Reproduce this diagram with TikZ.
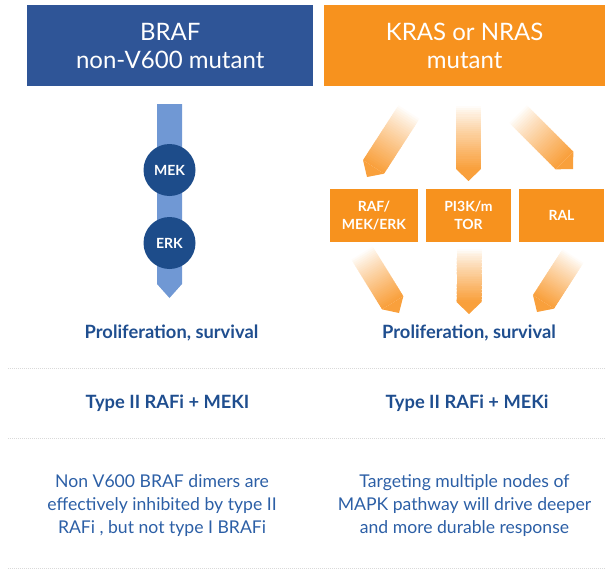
\documentclass[tikz,border=0pt]{standalone}
\usepackage{fontspec}
\setmainfont{Lato}
\usetikzlibrary{calc}
\definecolor{hblue}{HTML}{2F5597}
\definecolor{horange}{HTML}{F7921E}
\definecolor{tblue}{HTML}{1F4E8F}
\definecolor{pblue}{HTML}{2C5FA6}
\definecolor{cblue}{HTML}{1D4C8A}
\definecolor{ablue}{HTML}{7098D4}
\definecolor{aorange}{HTML}{F9A03C}
\definecolor{lgray}{HTML}{D9D9D9}
\newcommand\fatarr[2]{%
  \coordinate (fa-sh) at ($(#2)!12pt!(#1)$);
  \coordinate (fa-pa) at ($(#1)!12.5pt!90:(#2)$);
  \coordinate (fa-qa) at ($(#1)!12.5pt!-90:(#2)$);
  \coordinate (fa-ps) at ($(fa-sh)!12.5pt!90:(#2)$);
  \coordinate (fa-qs) at ($(fa-sh)!12.5pt!-90:(#2)$);
  \foreach \i in {0,...,29}{%
    \pgfmathsetmacro\ta{\i/30}%
    \pgfmathsetmacro\tb{min(1,(\i+1.4)/30)}%
    \pgfmathsetmacro\pc{100*((\i+0.5)/30)^0.85}%
    \fill[aorange!\pc!white]
      ($(fa-pa)!\ta!(fa-ps)$) -- ($(fa-pa)!\tb!(fa-ps)$) --
      ($(fa-qa)!\tb!(fa-qs)$) -- ($(fa-qa)!\ta!(fa-qs)$) -- cycle;
  }%
  \fill[aorange] (fa-ps) -- (#2) -- (fa-qs) -- cycle;
}
\begin{document}
\begin{tikzpicture}[x=1pt,y=1pt,
  hdr/.style={fill=#1, draw=none, text=white, align=center, inner sep=0pt,
    minimum height=81pt, anchor=north west, font=\fontsize{24}{28}\selectfont},
  circ/.style={circle, fill=cblue, text=white, minimum size=52pt, inner sep=0pt,
    font=\bfseries\fontsize{14}{16}\selectfont},
  obox/.style={fill=horange, text=white, align=center, inner sep=0pt,
    minimum height=53pt, font=\bfseries\fontsize{14}{18}\selectfont},
  lbl/.style={text=tblue, font=\bfseries\fontsize{18.3}{20}\selectfont},
  para/.style={text=pblue, align=center, font=\fontsize{17.6}{23}\selectfont},
  dotln/.style={lgray, line width=0.8pt, dash pattern=on 1pt off 1pt}
]
\useasboundingbox (0,0) rectangle (605,-570);
% headers
\node[hdr=hblue, minimum width=286pt] (braf) at (27,-5) {BRAF\\non-V600 mutant};
\node[hdr=horange, minimum width=281pt] (kras) at (324,-5) {KRAS or NRAS\\mutant};
% left pathway
\fill[ablue] (157,-104) -- (182,-104) -- (182,-284) -- (169.5,-298) -- (157,-284) -- cycle;
\node[circ] (mek) at (169.5,-170) {MEK};
\node[circ] (erk) at (169.5,-243) {ERK};
% right pathway
\node[obox, minimum width=88pt] (raf) at (374,-215.5) {RAF/\\MEK/ERK};
\node[obox, minimum width=85pt] (pi3k) at (468.5,-215.5) {PI3K/m\\TOR};
\node[obox, minimum width=85pt] (ral) at (561.5,-215.5) {RAL};
\coordinate (a1s) at (409,-112); \coordinate (a1e) at (367,-177);
\coordinate (a2s) at (468.5,-106); \coordinate (a2e) at (468.5,-181);
\coordinate (a3s) at (518,-114); \coordinate (a3e) at (573,-169);
\coordinate (b1s) at (362,-253); \coordinate (b1e) at (399,-313);
\coordinate (b2s) at (469,-249); \coordinate (b2e) at (469,-314);
\coordinate (b3s) at (573,-256); \coordinate (b3e) at (537,-312);
\fatarr{a1s}{a1e}
\fatarr{a2s}{a2e}
\fatarr{a3s}{a3e}
\fatarr{b1s}{b1e}
\fatarr{b2s}{b2e}
\fatarr{b3s}{b3e}
% texts
\node[lbl] (lprol) at (171.5,-333) {Proliferation, survival};
\node[lbl] (rprol) at (469,-333) {Proliferation, survival};
\draw[dotln] (8,-368) -- (605,-368);
\node[lbl] (ltype) at (167.5,-403) {Type II RAFi + MEKI};
\node[lbl] (rtype) at (467,-403) {Type II RAFi + MEKi};
\draw[dotln] (8,-438) -- (605,-438);
\node[para] (lpara) at (162,-506) {Non V600 BRAF dimers are\\effectively inhibited by type II\\RAFi , but not type I BRAFi};
\node[para] (rpara) at (464.5,-506) {Targeting multiple nodes of\\MAPK pathway will drive deeper\\and more durable response};
\draw[dotln] (8,-568) -- (605,-568);
\end{tikzpicture}
\end{document}
